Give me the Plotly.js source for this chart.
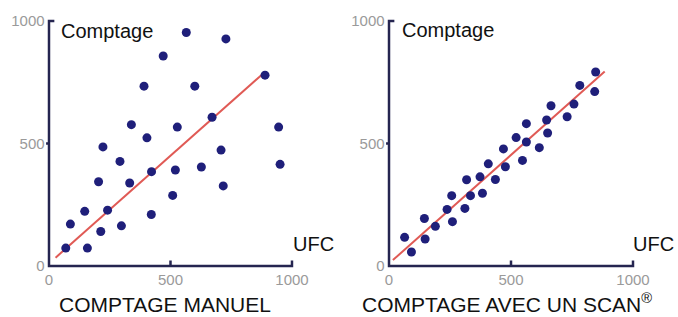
<!DOCTYPE html>
<html><head><meta charset="utf-8">
<script src="https://cdn.plot.ly/plotly-3.0.1.min.js"></script>
<style>html,body{margin:0;padding:0;background:#fff}#c{width:678px;height:317px}</style>
</head><body><div id="c"></div>
<script>
// Manual count (left)
const manualX = [69,158,88,147,213,241,298,204,222,292,332,339,403,422,421,391,470,565,509,520,528,600,627,671,708,717,728,889,945,951];
const manualY = [73,73,171,223,141,228,164,344,486,427,339,577,523,385,210,734,857,953,288,392,567,734,404,607,473,327,927,779,567,415];
const manualFitX = [27,882];
const manualFitY = [34,786];
// Scan count (right)
const scanX = [64,92,148,145,190,260,238,257,334,311,318,373,383,436,407,477,469,521,547,563,563,616,650,646,664,730,758,782,843,847];
const scanY = [117,57,110,194,162,181,231,287,287,235,352,364,297,353,417,405,478,524,431,506,581,483,543,596,654,609,661,737,712,792];
const scanFitX = [16,884];
const scanFitY = [24,794];
const tickVals = [0,500,1000];
const tickText = ['0','500','1000'];
const panelTitles = ['COMPTAGE MANUEL','COMPTAGE AVEC UN SCAN<sup>®</sup>'];
const yLabel = 'Comptage';
const xLabel = 'UFC';

// L-shaped axis frame with small ticks, built from the tick values
const tl = 22;
const axisPathX = [tl, 0, 0, -12, 0, 0, tickVals[1], tickVals[1], tickVals[1], tickVals[2], tickVals[2]];
const axisPathY = [tickVals[2], tickVals[2], tickVals[1], tickVals[1], tickVals[1], 0, 0, tl, 0, 0, tl];

const markerStyle = {color:'#1f1f7a', size:9};
const lineStyle = {color:'#e05a55', width:2};
const axisStyle = {color:'#252550', width:2.5};
const traces = [
  {x:axisPathX, y:axisPathY, mode:'lines', line:axisStyle, xaxis:'x', yaxis:'y', hoverinfo:'skip'},
  {x:manualFitX, y:manualFitY, mode:'lines', line:lineStyle, xaxis:'x', yaxis:'y', hoverinfo:'skip'},
  {x:manualX, y:manualY, mode:'markers', marker:markerStyle, xaxis:'x', yaxis:'y', cliponaxis:false},
  {x:axisPathX, y:axisPathY, mode:'lines', line:axisStyle, xaxis:'x2', yaxis:'y2', hoverinfo:'skip'},
  {x:scanFitX, y:scanFitY, mode:'lines', line:lineStyle, xaxis:'x2', yaxis:'y2', hoverinfo:'skip'},
  {x:scanX, y:scanY, mode:'markers', marker:markerStyle, xaxis:'x2', yaxis:'y2', cliponaxis:false}
];
const W=678, H=317;
const padLo = 14, padHi = 8;
const axRange = [-padLo, 1000+padHi];
function dom(p0, p1){ const s=(p1-p0)/1000; return [p0-padLo*s, p1+padHi*s]; }
const xdL = dom(49,292).map(v=>v/W);
const xdR = dom(389,633).map(v=>v/W);
const yDom = dom(51,296).map(v=>v/H);
const tickFont = {family:'"Liberation Sans", Arial, sans-serif', size:15, color:'#9a9a9a'};
function ax(domain, anchor){
  return {domain:domain, anchor:anchor, range:axRange, tickmode:'array', tickvals:tickVals, ticktext:tickText,
    showgrid:false, zeroline:false, showline:false, ticks:'', tickfont:tickFont, ticklabelstandoff:0};
}
const labelFont = {family:'"Liberation Sans", Arial, sans-serif', size:20, color:'#111'};
const titleFont = {family:'"Liberation Sans", Arial, sans-serif', size:21, color:'#111'};
const layout = {
  width:W, height:H, margin:{l:0,r:0,t:0,b:0}, showlegend:false,
  paper_bgcolor:'#fff', plot_bgcolor:'rgba(0,0,0,0)',
  xaxis: ax(xdL,'y'),
  yaxis: ax(yDom,'x'),
  xaxis2: ax(xdR,'y2'),
  yaxis2: ax(yDom,'x2'),
  annotations:[
    {text:yLabel, xref:'paper', yref:'paper', x:59/W, y:1-31/H, xanchor:'left', yanchor:'middle', showarrow:false, font:labelFont},
    {text:xLabel, xref:'paper', yref:'paper', x:291/W, y:1-244/H, xanchor:'left', yanchor:'middle', showarrow:false, font:labelFont},
    {text:yLabel, xref:'paper', yref:'paper', x:400/W, y:1-30/H, xanchor:'left', yanchor:'middle', showarrow:false, font:labelFont},
    {text:xLabel, xref:'paper', yref:'paper', x:631/W, y:1-244/H, xanchor:'left', yanchor:'middle', showarrow:false, font:labelFont},
    {text:panelTitles[0], xref:'paper', yref:'paper', x:165/W, y:1-304/H, xanchor:'center', yanchor:'middle', showarrow:false, font:titleFont},
    {text:panelTitles[1], xref:'paper', yref:'paper', x:507/W, y:1-303/H, xanchor:'center', yanchor:'middle', showarrow:false, font:titleFont}
  ]
};
Plotly.newPlot('c', traces, layout, {displayModeBar:false});
</script></body></html>
